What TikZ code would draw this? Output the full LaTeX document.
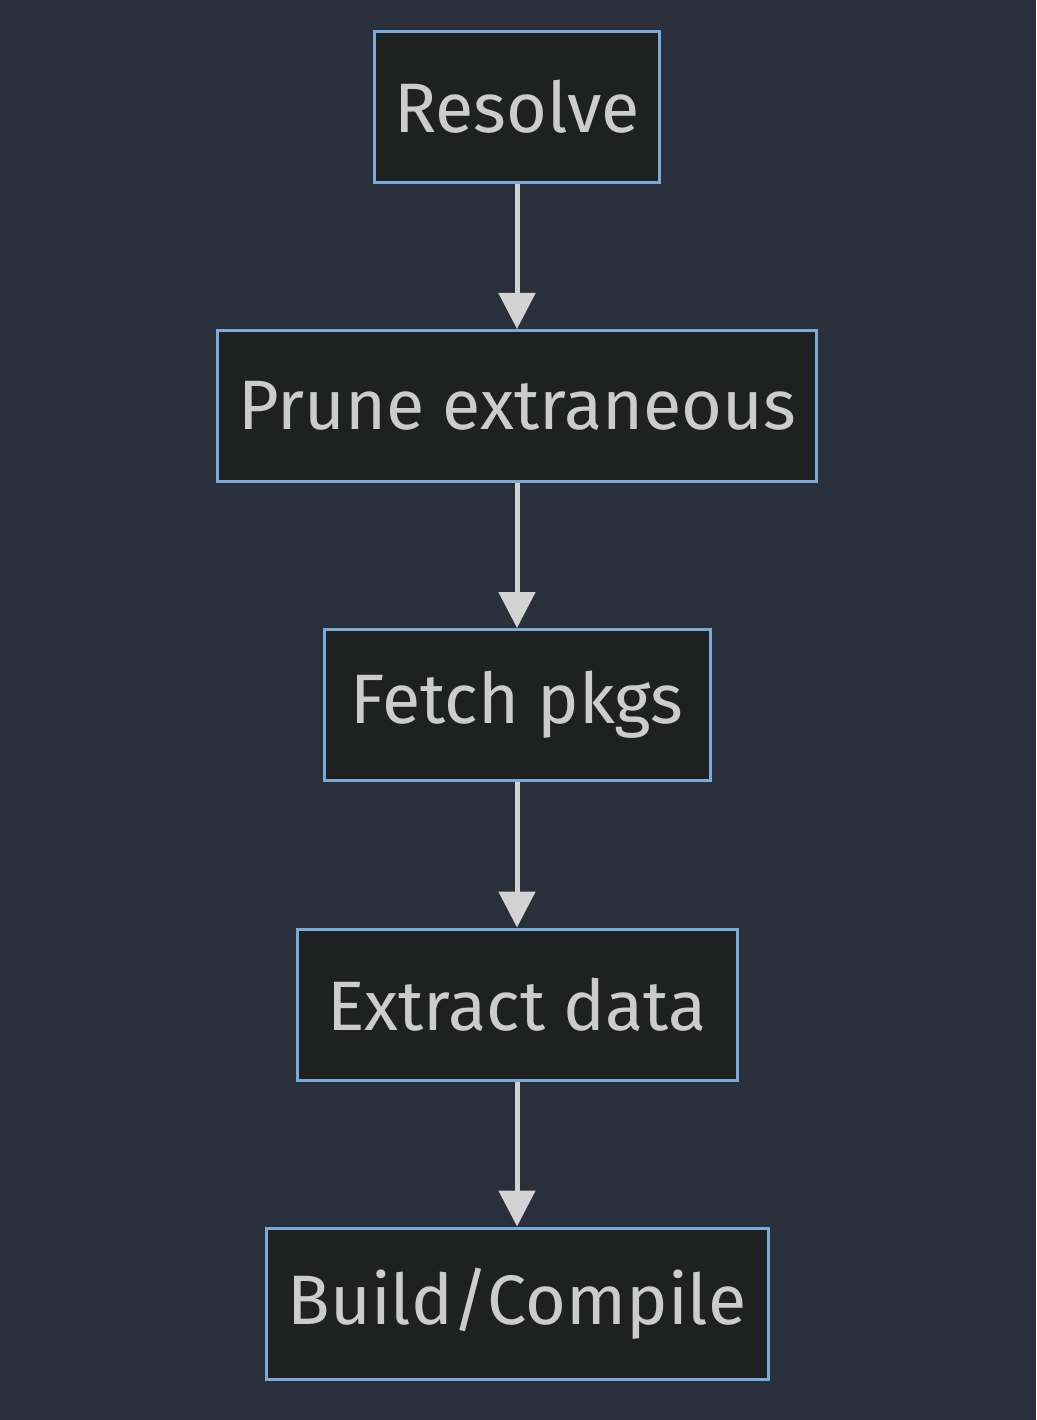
\documentclass[tikz,border=0pt]{standalone}
\usepackage{fontspec}
\setmainfont{Fira Sans}
\usetikzlibrary{arrows.meta}
\definecolor{bg}{HTML}{2A2F3C}
\definecolor{boxfill}{HTML}{1F2020}
\definecolor{boxline}{HTML}{7AAAD8}
\definecolor{txt}{HTML}{CCCCCC}
\definecolor{arr}{HTML}{D3D3D3}
\begin{document}
\begin{tikzpicture}[x=1pt,y=-1pt,
  stepbox/.style={draw=boxline,line width=3pt,fill=boxfill,text=txt,
    minimum height=151pt,inner xsep=0pt,font=\fontsize{70}{76}\selectfont,anchor=center},
  conn/.style={draw=arr,line width=5pt,-{Triangle[width=36pt,length=36pt]}}]
\fill[bg] (0,0) rectangle (1036,1420);
\useasboundingbox (0,0) rectangle (1036,1420);
\node[stepbox,minimum width=285pt] (a) at (517,107) {Resolve};
\node[stepbox,minimum width=599pt] (b) at (517,406) {Prune extraneous};
\node[stepbox,minimum width=386pt] (c) at (517,705) {Fetch pkgs};
\node[stepbox,minimum width=440pt] (d) at (517,1004.5) {Extract data};
\node[stepbox,minimum width=502pt] (e) at (517,1303.5) {Build/Compile};
\draw[conn] (a.south) -- (b.north);
\draw[conn] (b.south) -- (c.north);
\draw[conn] (c.south) -- (d.north);
\draw[conn] (d.south) -- (e.north);
\end{tikzpicture}
\end{document}
